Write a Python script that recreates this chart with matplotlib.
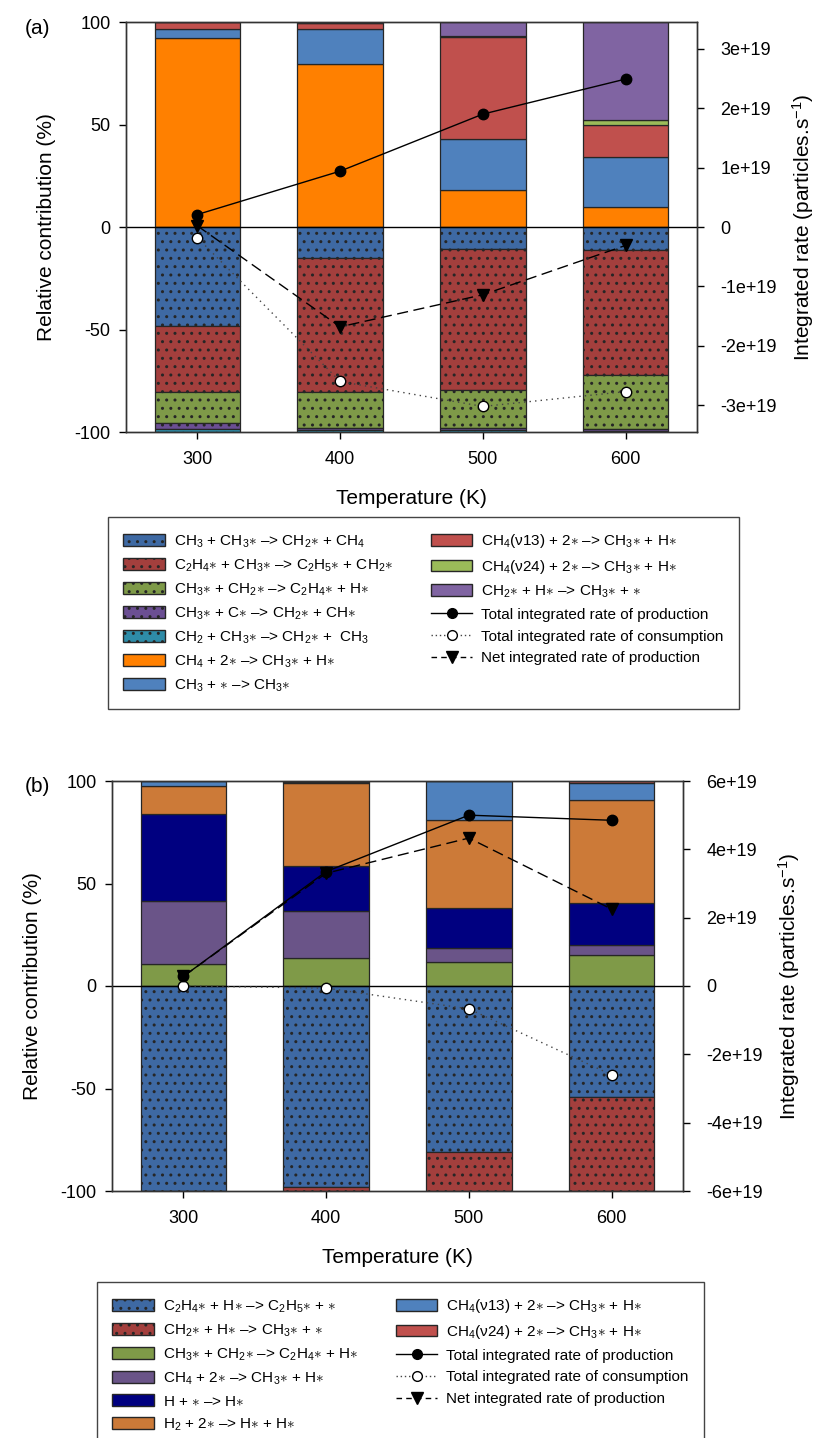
import re
import matplotlib
matplotlib.use("Agg")
import matplotlib.pyplot as plt
from matplotlib.patches import Patch
from matplotlib.lines import Line2D
from matplotlib.ticker import FuncFormatter

plt.rcParams['font.family'] = ['Liberation Sans', 'DejaVu Sans']
plt.rcParams['mathtext.fontset'] = 'custom'
plt.rcParams['mathtext.rm'] = 'Liberation Sans'
plt.rcParams['mathtext.it'] = 'Liberation Sans:italic'
plt.rcParams['mathtext.bf'] = 'Liberation Sans:bold'
plt.rcParams['mathtext.sf'] = 'Liberation Sans'
plt.rcParams['mathtext.default'] = 'rm'
plt.rcParams['axes.unicode_minus'] = False
plt.rcParams['hatch.linewidth'] = 1.0

temps = [300, 400, 500, 600]

# panel (a): positive contributions, bottom to top
a_pos_labels = ['CH_4 + 2* –> CH_3* + H*',
                'CH_3 + * –> CH_3*',
                'CH_4(ν13) + 2* –> CH_3* + H*',
                'CH_4(ν24) + 2* –> CH_3* + H*',
                'CH_2* + H* –> CH_3* + *']
a_pos_vals = [[92.0, 79.5, 18.2, 9.6],
              [4.8, 17.1, 24.6, 24.4],
              [3.2, 3.0, 50.1, 15.7],
              [0.0, 0.0, 0.4, 2.6],
              [0.0, 0.4, 6.7, 47.7]]
a_pos_colors = ['#FF8000', '#4F81BD', '#C0504D', '#9BBB59', '#8064A2']

# panel (a): negative contributions, top to bottom
a_neg_labels = ['CH_3 + CH_3* –> CH_2* + CH_4',
                'C_2H_4* + CH_3* –> C_2H_5* + CH_2*',
                'CH_3* + CH_2* –> C_2H_4* + H*',
                'CH_3* + C* –> CH_2* + CH*',
                'CH_2 + CH_3* –> CH_2* +  CH_3']
a_neg_vals = [[48.5, 15.2, 10.7, 11.1],
              [32.0, 65.4, 68.8, 61.1],
              [15.3, 17.3, 18.7, 26.5],
              [2.7, 1.0, 1.0, 0.7],
              [1.5, 1.1, 0.8, 0.6]]
a_neg_colors = ['#3E69A3', '#A33F3D', '#7E9A48', '#6B4F93', '#2E8CA8']

a_prod = [0.21e19, 0.94e19, 1.90e19, 2.49e19]
a_cons = [-0.18e19, -2.60e19, -3.02e19, -2.77e19]
a_net = [0.02e19, -1.68e19, -1.14e19, -0.31e19]

# panel (b)
b_pos_labels = ['CH_3* + CH_2* –> C_2H_4* + H*',
                'CH_4 + 2* –> CH_3* + H*',
                'H + * –> H*',
                'H_2 + 2* –> H* + H*',
                'CH_4(ν13) + 2* –> CH_3* + H*',
                'CH_4(ν24) + 2* –> CH_3* + H*']
b_pos_vals = [[10.8, 13.7, 11.5, 15.3],
              [30.8, 22.8, 7.1, 4.9],
              [42.2, 22.0, 19.5, 20.4],
              [13.6, 40.5, 42.7, 50.0],
              [2.6, 0.5, 19.2, 8.3],
              [0.0, 0.5, 0.0, 1.1]]
b_pos_colors = ['#7F9A48', '#6A5488', '#000080', '#CC7A38', '#4F81BD', '#C0504D']

b_neg_labels = ['C_2H_4* + H* –> C_2H_5* + *',
                'CH_2* + H* –> CH_3* + *']
b_neg_vals = [[100.0, 98.2, 81.1, 54.0],
              [0.0, 1.8, 18.9, 46.0]]
b_neg_colors = ['#3E69A3', '#A33F3D']

b_prod = [0.28e19, 3.35e19, 5.00e19, 4.85e19]
b_cons = [0.0, -0.06e19, -0.67e19, -2.60e19]
b_net = [0.28e19, 3.30e19, 4.33e19, 2.25e19]

line_labels = ['Total integrated rate of production',
               'Total integrated rate of consumption',
               'Net integrated rate of production']

EDGE = '#262626'


def chem(s):
    # CH_3* -> CH$_3$ with a centred math asterisk
    s = re.sub(r'_(\d)', r'$_\1$', s)
    return s.replace('*', r'${\ast}$')


def rate_fmt(v, pos):
    if abs(v) < 1:
        return '0'
    return '%.0e' % v


def draw_panel(ax, pos_vals, pos_colors, neg_vals, neg_colors,
               prod, cons, net, rlim, rticks):
    bottom = [0.0] * 4
    for vals, c in zip(pos_vals, pos_colors):
        ax.bar(temps, vals, width=60, bottom=bottom, color=c,
               edgecolor=EDGE, linewidth=0.9, zorder=2)
        bottom = [b + v for b, v in zip(bottom, vals)]
    bottom = [0.0] * 4
    for vals, c in zip(neg_vals, neg_colors):
        neg = [-v for v in vals]
        ax.bar(temps, neg, width=60, bottom=bottom, color=c,
               edgecolor=EDGE, linewidth=0.9, hatch='..', zorder=2)
        bottom = [b + v for b, v in zip(bottom, neg)]
    ax.axhline(0, color='black', lw=1.0, zorder=3)
    ax.set_xlim(250, 650)
    ax.set_ylim(-100, 100)
    ax.set_xticks(temps)
    ax.set_yticks([-100, -50, 0, 50, 100])
    ax.tick_params(direction='out', length=5, width=1, labelsize=13)
    ax.tick_params(axis='y', pad=6)
    ax.tick_params(axis='x', pad=9)
    for s in ax.spines.values():
        s.set_color('#333333')
        s.set_linewidth(1.0)
    ax.set_xlabel('Temperature (K)', fontsize=15)
    ax.xaxis.set_label_coords(0.5, -0.138)
    ax.set_ylabel('Relative contribution (%)', fontsize=15)
    ax.yaxis.set_label_coords(-0.123, 0.5)

    ax2 = ax.twinx()
    ax2.plot(temps, net, color='black', lw=1.0, ls=(0, (8, 4)),
             marker='v', ms=8, mfc='black', mec='black', zorder=4)
    ax2.plot(temps, cons, color='#444444', lw=1.0, ls=(0, (1, 3)),
             marker='o', ms=7.5, mfc='white', mec='black', zorder=4)
    ax2.plot(temps, prod, color='black', lw=1.0, ls='-',
             marker='o', ms=7.5, mfc='black', mec='black', zorder=5)
    ax2.set_ylim(-rlim, rlim)
    ax2.set_yticks(rticks)
    ax2.yaxis.set_major_formatter(FuncFormatter(rate_fmt))
    ax2.tick_params(direction='out', length=5, width=1, labelsize=13, pad=12)
    for s in ax2.spines.values():
        s.set_color('#333333')
        s.set_linewidth(1.0)
    ax2.set_ylabel('Integrated rate (particles.s$^{-1}$)', fontsize=15)
    ax2.yaxis.set_label_coords(1.163, 0.5)
    return ax2


def line_handles():
    return [Line2D([], [], color='black', lw=1.0, marker='o', ms=7,
                   mfc='black', mec='black'),
            Line2D([], [], color='#444444', lw=1.0, ls=(0, (1, 2)), marker='o',
                   ms=7, mfc='white', mec='black'),
            Line2D([], [], color='black', lw=1.0, ls=(0, (4, 3)), marker='v',
                   ms=8, mfc='black', mec='black')]


fig = plt.figure(figsize=(8.14, 14.38), dpi=100)

ax_a = fig.add_axes([126 / 814, 1 - 432 / 1438, 571 / 814, 410 / 1438])
draw_panel(ax_a, a_pos_vals, a_pos_colors, a_neg_vals, a_neg_colors,
           a_prod, a_cons, a_net, 3.45e19,
           [-3e19, -2e19, -1e19, 0, 1e19, 2e19, 3e19])

ax_b = fig.add_axes([112 / 814, 1 - 1191 / 1438, 571 / 814, 410 / 1438])
draw_panel(ax_b, b_pos_vals, b_pos_colors, b_neg_vals, b_neg_colors,
           b_prod, b_cons, b_net, 6e19,
           [-6e19, -4e19, -2e19, 0, 2e19, 4e19, 6e19])

fig.text(25 / 814, 1 - 28 / 1438, '(a)', fontsize=15, va='center')
fig.text(25 / 814, 1 - 786 / 1438, '(b)', fontsize=15, va='center')

# legend (a): dotted (negative) reactions first, then plain ones, then lines
h_a = [Patch(facecolor=c, edgecolor=EDGE, hatch='..') for c in a_neg_colors]
h_a += [Patch(facecolor=c, edgecolor=EDGE) for c in a_pos_colors]
h_a += line_handles()
l_a = [chem(s) for s in a_neg_labels + a_pos_labels] + line_labels
leg_a = fig.legend(h_a, l_a, ncol=2, loc='upper left',
                   bbox_to_anchor=(108 / 814, 0.5, 631 / 814, 1 - 517 / 1438 - 0.5),
                   mode='expand', borderaxespad=0, fontsize=11,
                   handlelength=2.7, handleheight=0.8, handletextpad=0.6,
                   labelspacing=0.5, borderpad=1.0, fancybox=False,
                   edgecolor='#444444', framealpha=1)
leg_a.get_frame().set_linewidth(1.0)

h_b = [Patch(facecolor=c, edgecolor=EDGE, hatch='..') for c in b_neg_colors]
h_b += [Patch(facecolor=c, edgecolor=EDGE) for c in b_pos_colors]
h_b += line_handles()
l_b = [chem(s) for s in b_neg_labels + b_pos_labels] + line_labels
leg_b = fig.legend(h_b, l_b, ncol=2, loc='upper left',
                   bbox_to_anchor=(97 / 814, 0.0, 607 / 814, 1 - 1282 / 1438),
                   mode='expand', borderaxespad=0, fontsize=11,
                   handlelength=2.7, handleheight=0.8, handletextpad=0.6,
                   labelspacing=0.5, borderpad=1.0, fancybox=False,
                   edgecolor='#444444', framealpha=1)
leg_b.get_frame().set_linewidth(1.0)

fig.savefig('out.png', dpi=100)
